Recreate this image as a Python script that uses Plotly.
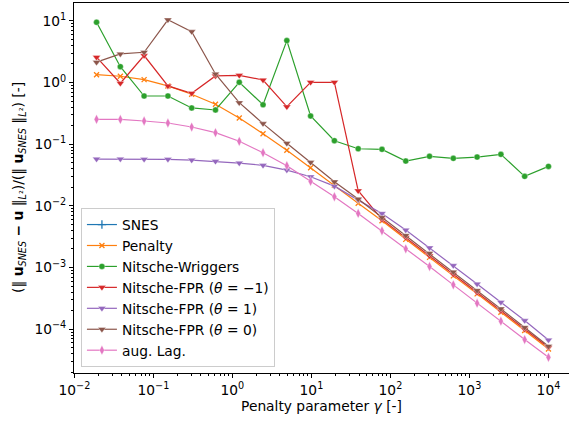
import plotly.graph_objects as go

# Penalty parameters: 10^4 / 2^k, k = 19 ... 0
gamma = [10000 / 2 ** k for k in range(19, -1, -1)]

# Relative L2 error with respect to the SNES reference solution
snes = [0.0] * 20
penalty = [1.34, 1.265, 1.114, 0.881, 0.646, 0.444, 0.266, 0.148, 0.0796, 0.0416,
           0.0216, 0.011, 0.00573, 0.00286, 0.00146, 7.33e-4, 3.74e-4, 1.89e-4, 9.53e-5, 4.79e-5]
nitsche_wriggers = [9.5, 1.81, 0.605, 0.605, 0.387, 0.359, 1.01, 0.437, 4.79, 0.287,
                    0.114, 0.0845, 0.0826, 0.0533, 0.0637, 0.059, 0.0619, 0.0685, 0.0301, 0.0437]
fpr_minus1 = [2.58, 0.975, 2.74, 0.881, 0.67, 1.28, 1.31, 1.10, 0.406, 1.01,
              1.01, 0.0176, 0.00604, 0.00308, 0.00155, 7.8e-4, 3.94e-4, 1.98e-4, 1.0e-4, 5.05e-5]
fpr_plus1 = [0.0575, 0.0575, 0.0569, 0.0569, 0.0554, 0.0528, 0.0495, 0.0454, 0.0381, 0.0297,
             0.0209, 0.0124, 0.00755, 0.00405, 0.00209, 0.00108, 5.43e-4, 2.74e-4, 1.38e-4, 6.7e-5]
fpr_zero = [2.14, 2.91, 3.10, 10.4, 6.70, 1.38, 0.472, 0.216, 0.1035, 0.0508,
            0.0246, 0.0129, 0.0065, 0.00332, 0.0017, 8.5e-4, 4.25e-4, 2.14e-4, 1.07e-4, 5.3e-5]
aug_lag = [0.253, 0.252, 0.238, 0.221, 0.190, 0.154, 0.1115, 0.0728, 0.0448, 0.025,
           0.01406, 0.00755, 0.00394, 0.00201, 0.00104, 5.24e-4, 2.64e-4, 1.35e-4, 6.8e-5, 3.5e-5]

series = [
    ("SNES", snes, "#1f77b4", "cross-thin", 6),
    ("Penalty", penalty, "#ff7f0e", "x-thin", 5),
    ("Nitsche-Wriggers", nitsche_wriggers, "#2ca02c", "circle", 6),
    ("Nitsche-FPR (<i>θ</i> = −1)", fpr_minus1, "#d62728", "triangle-down", 7),
    ("Nitsche-FPR (<i>θ</i> = 1)", fpr_plus1, "#9467bd", "triangle-down", 7),
    ("Nitsche-FPR (<i>θ</i> = 0)", fpr_zero, "#8c564b", "triangle-down", 7),
    ("aug. Lag.", aug_lag, "#e377c2", "diamond-tall", 7),
]

x_major = [-2, -1, 0, 1, 2, 3, 4]
y_major = [-4, -3, -2, -1, 0, 1]


def power_label(e):
    return "10<sup>" + (("−" + str(-e)) if e < 0 else str(e)) + "</sup>"


def minor_vals(lo, hi):
    return [m * 10 ** e for e in range(lo, hi) for m in range(2, 10)]


fig = go.Figure()
for name, vals, color, symbol, size in series:
    thin = symbol.endswith("-thin")
    fig.add_trace(go.Scatter(
        x=gamma,
        y=[v if v > 0 else None for v in vals],
        name=name,
        mode="lines+markers",
        line=dict(color=color, width=1.2),
        marker=dict(symbol=symbol, size=size, color=color,
                    line=dict(color=color, width=1.3) if thin else dict(color="rgba(255,255,255,0.45)", width=0.8)),
    ))

axis_font = dict(family="DejaVu Sans", size=13.8, color="#000")

fig.update_layout(
    width=569, height=429,
    margin=dict(l=74, r=0, t=3, b=56),
    paper_bgcolor="white", plot_bgcolor="white",
    font=axis_font,
    showlegend=True,
    legend=dict(
        x=0.014, y=0.016, xanchor="left", yanchor="bottom",
        bgcolor="rgba(255,255,255,0.8)", bordercolor="#cccccc", borderwidth=1,
        font=axis_font,
        tracegroupgap=0,
    ),
    xaxis=dict(
        type="log", range=[-2.005, 4.26],
        tickvals=[10 ** e for e in x_major], ticktext=[power_label(e) for e in x_major],
        ticks="outside", ticklen=4, tickwidth=1, tickcolor="#000",
        minor=dict(tickvals=minor_vals(-2, 5), ticks="outside", ticklen=2, tickwidth=0.8, tickcolor="#000"),
        showline=True, linecolor="#000", linewidth=1, mirror=True,
        showgrid=False, zeroline=False,
        title=dict(text="Penalty parameter <i>γ</i> [-]", standoff=4, font=axis_font),
    ),
    yaxis=dict(
        type="log", range=[-4.71, 1.29],
        tickvals=[10 ** e for e in y_major], ticktext=[power_label(e) for e in y_major],
        ticks="outside", ticklen=4, tickwidth=1, tickcolor="#000",
        minor=dict(tickvals=minor_vals(-5, 2), ticks="outside", ticklen=2, tickwidth=0.8, tickcolor="#000"),
        showline=True, linecolor="#000", linewidth=1,
        showgrid=False, zeroline=False,
    ),
    annotations=[dict(
        text="(‖ <b>u</b><sub><i>SNES</i></sub> <b>−</b> <b>u</b> ‖<sub><i>L</i>²</sub>)/(‖ <b>u</b><sub><i>SNES</i></sub> ‖<sub><i>L</i>²</sub>) [-]",
        xref="paper", yref="paper", x=(19 - 74) / 495, y=0.5,
        xanchor="center", yanchor="middle", textangle=-90,
        showarrow=False, font=axis_font,
    )],
)

fig.write_html("out.html")
